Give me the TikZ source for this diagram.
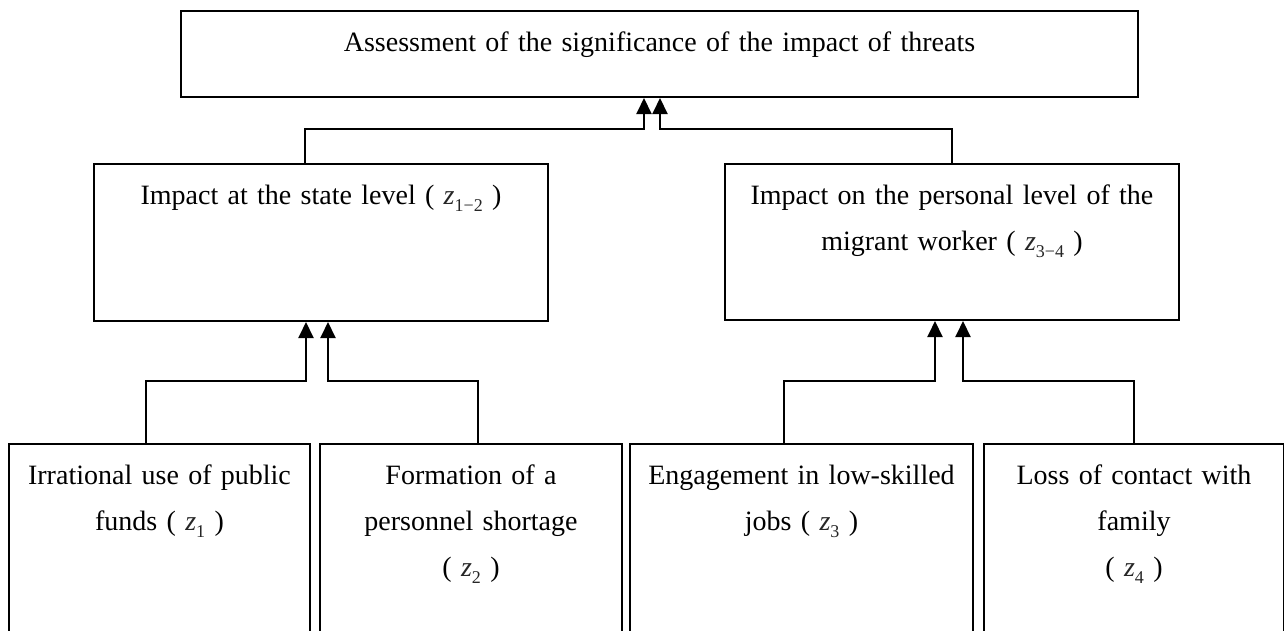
\documentclass[tikz,border=0pt]{standalone}
\usepackage{fontspec}
\setmainfont{Liberation Serif}
\usetikzlibrary{arrows.meta}
\newcommand{\zix}[1]{{\color{black!85}\textit{z}\raisebox{-0.6ex}{\fontsize{18}{18}\selectfont #1}}}

\begin{document}
\begin{tikzpicture}[
  x=1pt, y=-1pt,
  every node/.style={draw, align=center, inner sep=0pt, line width=2pt, text height=40pt,
    font=\fontsize{28}{46}\selectfont, anchor=north west},
  box/.style 2 args={text width=#1, text depth=#2},
  arrow/.style={-{Triangle[width=15pt,length=16pt]}, line width=2pt}
]
\clip (0,0) rectangle (1284,630);
\node[box={957pt}{46pt}] (assessment) at (180,10) {Assessment of the significance of the impact of threats};
\node[box={454pt}{117pt}] (state) at (93,163) {Impact at the state level ( \zix{1−2} )};
\node[box={454pt}{116pt}] (personal) at (724,163) {Impact on the personal level of the\\migrant worker ( \zix{3−4} )};
\node[box={301pt}{217pt}] (funds) at (8,443) {Irrational use of public\\funds ( \zix{1} )};
\node[box={302pt}{217pt}] (shortage) at (319,443) {Formation of a\\personnel shortage\\( \zix{2} )};
\node[box={343pt}{217pt}] (jobs) at (629,443) {Engagement in low-skilled\\jobs ( \zix{3} )};
\node[box={300pt}{217pt}] (family) at (983,443) {Loss of contact with\\family\\( \zix{4} )};
% upper level
\draw[arrow] ([xshift=-16pt]state.north) -- ++(0,-34) -| ([xshift=-15.5pt]assessment.south);
\draw[arrow] (personal.north) -- ++(0,-34) -| ([xshift=0.5pt]assessment.south);
% lower level
\draw[arrow] ([xshift=-13.5pt]funds.north) -- ++(0,-62) -| ([xshift=-15pt]state.south);
\draw[arrow] ([xshift=7pt]shortage.north) -- ++(0,-62) -| ([xshift=7pt]state.south);
\draw[arrow] ([xshift=-17.5pt]jobs.north) -- ++(0,-62) -| ([xshift=-17pt]personal.south);
\draw[arrow] (family.north) -- ++(0,-62) -| ([xshift=11pt]personal.south);
\end{tikzpicture}
\end{document}
